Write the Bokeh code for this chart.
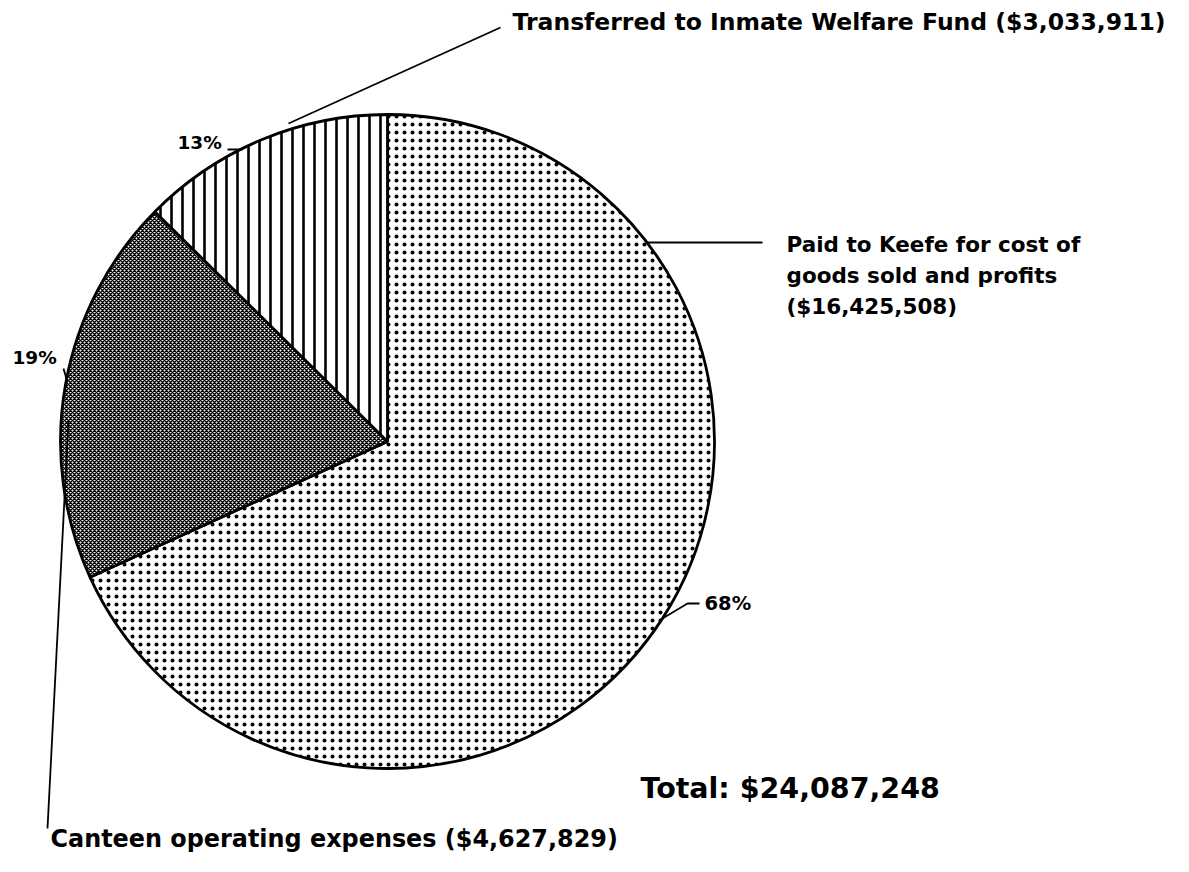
import numpy as np
from bokeh.plotting import figure
from bokeh.models import Range1d, ColumnDataSource
from bokeh.core.properties import value
from bokeh.embed import file_html
from bokeh.resources import INLINE

# ---- data ----
categories = ["Paid to Keefe for cost of goods sold and profits",
              "Canteen operating expenses",
              "Transferred to Inmate Welfare Fund"]
amounts = [16425508, 4627829, 3033911]
pct_labels = ["68%", "19%", "13%"]
total_label = "Total: $24,087,248"
hatches = ["dot", "diagonal_cross", "vertical_line"]

W, H = 1189, 872
FONT = "DejaVu Sans"

def Y(py):
    return H - py

p = figure(width=W, height=H, x_range=Range1d(0, W), y_range=Range1d(0, H),
           output_backend="svg", toolbar_location=None, min_border=0)
p.axis.visible = False
p.grid.visible = False
p.outline_line_color = None
p.background_fill_color = "white"

cx, cy, r = 387, Y(441), 327
vals = np.array(amounts, dtype=float)
frac = vals / vals.sum()
cum = np.concatenate([[0], np.cumsum(frac)])
start = np.pi / 2 - cum[:-1] * 2 * np.pi
end = np.pi / 2 - cum[1:] * 2 * np.pi

src = ColumnDataSource(dict(start=start, end=end, cat=categories, hatch=hatches,
                            scale=[8, 4, 11], weight=[1.0, 1.5, 2.6]))
p.wedge(x=cx, y=cy, radius=r, start_angle="start", end_angle="end", direction="clock",
        source=src, fill_color="white", line_color="black", line_width=2.8,
        hatch_pattern="hatch", hatch_scale="scale", hatch_weight="weight", hatch_color="black")

# leader lines
def seg(xs, ys, w=1.8):
    p.line([x for x in xs], [Y(y) for y in ys], line_color="black", line_width=w)

seg([288, 500], [123, 27])
seg([227, 242], [149, 149])
seg([647, 762], [242, 242])
seg([662, 687, 699], [618, 603, 603])
seg([63, 67], [368, 382])
seg([68, 47], [420, 828])

def txt(x, y, s, size=20, align="left"):
    p.text(x=[x], y=[Y(y)], text=[s], text_font=value(FONT), text_font_style="bold",
           text_font_size=f"{size}px", text_baseline="middle", text_align=align,
           text_color="black")

txt(512, 21, "Transferred to Inmate Welfare Fund ($3,033,911)", 23.5)
txt(786, 244, "Paid to Keefe for cost of", 21.5)
txt(786, 275, "goods sold and profits", 21.5)
txt(786, 306, "($16,425,508)", 21.5)
txt(177, 142, pct_labels[2], 18.5)
txt(12, 357, pct_labels[1], 18.5)
txt(704, 603, pct_labels[0], 19.5)
txt(640, 788, total_label, 28.5)
txt(50, 838, "Canteen operating expenses ($4,627,829)", 23.9)

open("out.html", "w").write(file_html(p, INLINE))
